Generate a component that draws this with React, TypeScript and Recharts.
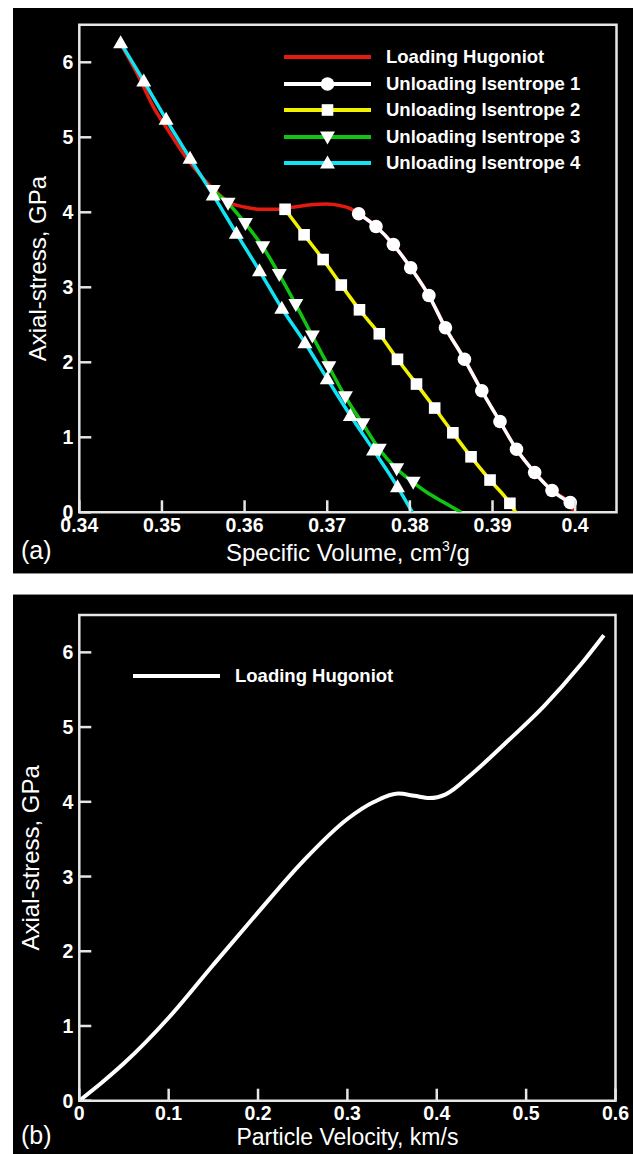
import React from 'react';
import { LineChart, Line, XAxis, YAxis, ReferenceArea, Legend } from 'recharts';

const FONT = '"Liberation Sans", Arial, Helvetica, sans-serif';

// ---------- Panel (a): stress vs specific volume ----------
const volumeTicks = [0.34, 0.35, 0.36, 0.37, 0.38, 0.39, 0.4];
const stressTicks = [0, 1, 2, 3, 4, 5, 6];

const hugoniotVolume = [0.345, 0.347, 0.349, 0.351, 0.353, 0.355, 0.3565, 0.358, 0.36, 0.362, 0.364, 0.366, 0.368, 0.37, 0.3715, 0.3728, 0.3738, 0.3759, 0.378, 0.3801, 0.3823, 0.3843, 0.3866, 0.3887, 0.3909, 0.3929, 0.3951, 0.3972, 0.3994, 0.3998];
const hugoniotStress = [6.25, 5.85, 5.4, 5.05, 4.72, 4.45, 4.28, 4.14, 4.07, 4.04, 4.04, 4.07, 4.1, 4.11, 4.09, 4.05, 3.98, 3.81, 3.57, 3.26, 2.89, 2.46, 2.04, 1.62, 1.21, 0.84, 0.53, 0.29, 0.1, 0.02];

const iso1Volume = [0.3738, 0.3759, 0.378, 0.3801, 0.3823, 0.3843, 0.3866, 0.3887, 0.3909, 0.3929, 0.3951, 0.3972, 0.3994];
const iso1Stress = [3.98, 3.81, 3.57, 3.26, 2.89, 2.46, 2.04, 1.62, 1.21, 0.84, 0.53, 0.29, 0.13];
const iso1TailVolume: number[] = [];
const iso1TailStress: number[] = [];

const iso2Volume = [0.3649, 0.3672, 0.3695, 0.3717, 0.3739, 0.3763, 0.3785, 0.3808, 0.383, 0.3852, 0.3874, 0.3897, 0.3921];
const iso2Stress = [4.04, 3.7, 3.37, 3.03, 2.7, 2.38, 2.04, 1.71, 1.39, 1.06, 0.74, 0.43, 0.12];
const iso2TailVolume = [0.3928];
const iso2TailStress = [0];

const iso3Volume = [0.3562, 0.358, 0.3601, 0.3622, 0.3642, 0.3662, 0.3682, 0.3702, 0.3722, 0.3743, 0.3763, 0.3784, 0.3804];
const iso3Stress = [4.29, 4.12, 3.85, 3.54, 3.17, 2.77, 2.35, 1.94, 1.54, 1.18, 0.84, 0.58, 0.4];
const iso3TailVolume = [0.382, 0.3843, 0.3862];
const iso3TailStress = [0.27, 0.12, 0];

const iso4Volume = [0.345, 0.3478, 0.3505, 0.3534, 0.3562, 0.359, 0.3618, 0.3645, 0.3673, 0.37, 0.3728, 0.3756, 0.3785];
const iso4Stress = [6.26, 5.75, 5.24, 4.72, 4.23, 3.72, 3.22, 2.72, 2.26, 1.78, 1.29, 0.83, 0.34];
const iso4TailVolume = [0.3803];
const iso4TailStress = [0];

// ---------- Panel (b): stress vs particle velocity ----------
const velocityTicks = [0, 0.1, 0.2, 0.3, 0.4, 0.5, 0.6];
const hugoniotVelocity = [0, 0.025, 0.05, 0.1, 0.15, 0.2, 0.25, 0.3, 0.33, 0.357, 0.375, 0.392, 0.41, 0.44, 0.48, 0.52, 0.56, 0.587];
const hugoniotStressB = [0, 0.24, 0.5, 1.11, 1.82, 2.52, 3.2, 3.77, 4.0, 4.11, 4.08, 4.05, 4.1, 4.38, 4.82, 5.28, 5.82, 6.23];

const zip = (xs: number[], ys: number[]) => xs.map((x, i) => ({ x, y: ys[i] }));

type Shape = 'none' | 'circle' | 'square' | 'down' | 'up';

const seriesA = [
  { name: 'Loading Hugoniot', color: '#e41a10', shape: 'none' as Shape, marks: zip(hugoniotVolume, hugoniotStress), tail: [] as { x: number; y: number }[] },
  { name: 'Unloading Isentrope 1', color: '#ffffff', shape: 'circle' as Shape, marks: zip(iso1Volume, iso1Stress), tail: zip(iso1TailVolume, iso1TailStress) },
  { name: 'Unloading Isentrope 2', color: '#f2f200', shape: 'square' as Shape, marks: zip(iso2Volume, iso2Stress), tail: zip(iso2TailVolume, iso2TailStress) },
  { name: 'Unloading Isentrope 3', color: '#12c412', shape: 'down' as Shape, marks: zip(iso3Volume, iso3Stress), tail: zip(iso3TailVolume, iso3TailStress) },
  { name: 'Unloading Isentrope 4', color: '#10e4f4', shape: 'up' as Shape, marks: zip(iso4Volume, iso4Stress), tail: zip(iso4TailVolume, iso4TailStress) },
];

const FRAME = '#e6e6e6';

function marker(shape: Shape, cx: number, cy: number, key?: string | number) {
  const k = key ?? `${shape}-${cx}-${cy}`;
  if (shape === 'circle') return <circle key={k} cx={cx} cy={cy} r={6.8} fill="#fff" />;
  if (shape === 'square') return <rect key={k} x={cx - 5.8} y={cy - 5.8} width={11.6} height={11.6} fill="#fff" />;
  if (shape === 'up') return <path key={k} d={`M${cx},${cy - 7.5}L${cx + 7.5},${cy + 5.5}L${cx - 7.5},${cy + 5.5}Z`} fill="#fff" />;
  if (shape === 'down') return <path key={k} d={`M${cx},${cy + 7.5}L${cx + 7.5},${cy - 5.5}L${cx - 7.5},${cy - 5.5}Z`} fill="#fff" />;
  return <g key={k} />;
}

const fmt = (v: number) => String(Number(v.toFixed(3)));

const XTick = (props: any) => {
  const { x, y, payload } = props;
  return (
    <g>
      <line x1={x} y1={y} x2={x} y2={y - 12} stroke={FRAME} strokeWidth={2.5} />
      <text x={x} y={y + 19.5} textAnchor="middle" fill="#fff" fontFamily={FONT} fontWeight="bold" fontSize={19.5}>
        {fmt(payload.value)}
      </text>
    </g>
  );
};

const YTick = (props: any) => {
  const { x, y, payload } = props;
  return (
    <g>
      <line x1={x} y1={y} x2={x + 12} y2={y} stroke={FRAME} strokeWidth={2.5} />
      <text x={x - 6} y={y + 7} textAnchor="end" fill="#fff" fontFamily={FONT} fontWeight="bold" fontSize={19.5}>
        {fmt(payload.value)}
      </text>
    </g>
  );
};

const legendRows = (items: { name: string; color: string; shape: Shape }[], payload: any[] | undefined) => (
  <div style={{ fontFamily: FONT }}>
    {items.map((it) => {
      const p = (payload || []).find((e: any) => e.value === it.name);
      const color = p && p.color ? p.color : it.color;
      return (
        <div key={it.name} style={{ display: 'flex', alignItems: 'center', height: 26.5 }}>
          <svg width={87} height={26} style={{ display: 'block' }}>
            <line x1={0} y1={13} x2={87} y2={13} stroke={color} strokeWidth={4} />
            {marker(it.shape, 43.5, 13)}
          </svg>
          <span style={{ marginLeft: 15, color: '#fff', fontWeight: 'bold', fontSize: 18.5, whiteSpace: 'nowrap', lineHeight: '26px' }}>
            {it.name}
          </span>
        </div>
      );
    })}
  </div>
);

const YTitle = (dx: number) => (props: any) => {
  const vb = props.viewBox || {};
  const cx = vb.x + (vb.width || 0) + dx;
  const cy = vb.y + vb.height / 2;
  return (
    <text x={cx} y={cy} transform={`rotate(-90 ${cx} ${cy})`} textAnchor="middle" dominantBaseline="central" fill="#fff" fontFamily={FONT} fontSize={24}>
      Axial-stress, GPa
    </text>
  );
};

const XTitleA = (props: any) => {
  const vb = props.viewBox || {};
  const cx = vb.x + vb.width / 2;
  const by = vb.y + 48.3;
  return (
    <g>
      <text x={cx} y={by} textAnchor="middle" fill="#fff" fontFamily={FONT} fontSize={24}>
        Specific Volume, cm
        <tspan fontSize={14} dy={-10}>3</tspan>
        <tspan dy={10}>/g</tspan>
      </text>
      <text x={21} y={by - 2} fill="#fff" fontFamily={FONT} fontSize={25}>(a)</text>
    </g>
  );
};

const XTitleB = (props: any) => {
  const vb = props.viewBox || {};
  const cx = vb.x + vb.width / 2;
  const by = vb.y + 44.3;
  return (
    <g>
      <text x={cx} y={by} textAnchor="middle" fill="#fff" fontFamily={FONT} fontSize={23}>
        Particle Velocity, km/s
      </text>
      <text x={21} y={by - 1} fill="#fff" fontFamily={FONT} fontSize={25}>(b)</text>
    </g>
  );
};

export default function App() {
  const dataB = zip(hugoniotVelocity, hugoniotStressB);
  return (
    <div style={{ position: 'relative', width: 633, height: 1154, overflow: 'hidden', background: '#fff' }}>
      <style>{'html,body{margin:0;padding:0;overflow:hidden;background:#fff}'}</style>
      <div style={{ position: 'absolute', left: 13, top: 8, width: 620, height: 565, background: '#000', borderBottom: '1px solid #8c8c8c' }} />
      <div style={{ position: 'absolute', left: 13, top: 594, width: 620, height: 560, background: '#000', borderTop: '1px solid #8c8c8c' }} />

      <div style={{ position: 'absolute', left: 0, top: 0 }}>
        <LineChart width={633} height={573} margin={{ top: 24.8, right: 16.5, bottom: 59.7, left: 78.3 }}>
          <XAxis
            type="number"
            dataKey="x"
            domain={[0.34, 0.405]}
            ticks={volumeTicks}
            interval={0}
            allowDataOverflow
            height={1}
            tickSize={0}
            tickMargin={0}
            axisLine={false}
            tickLine={false}
            tick={<XTick />}
            label={XTitleA}
          />
          <YAxis
            type="number"
            dataKey="y"
            domain={[0, 6.5]}
            ticks={stressTicks}
            interval={0}
            allowDataOverflow
            width={1}
            tickSize={0}
            tickMargin={0}
            axisLine={false}
            tickLine={false}
            tick={<YTick />}
            label={YTitle(-42)}
          />
          <ReferenceArea x1={0.34} x2={0.405} y1={0} y2={6.5} fill="none" stroke={FRAME} strokeWidth={2.5} />
          {seriesA.map((s) => {
            const n = s.marks.length;
            return (
              <Line
                key={s.name}
                name={s.name}
                data={[...s.marks, ...s.tail]}
                dataKey="y"
                type="monotone"
                stroke={s.color}
                strokeWidth={3.5}
                isAnimationActive={false}
                dot={(p: any) => (p.index < n && s.shape !== 'none' ? marker(s.shape, p.cx, p.cy, `${s.name}-${p.index}`) : <g key={`${s.name}-e-${p.index}`} />)}
                activeDot={false}
              />
            );
          })}
          <Legend
            layout="vertical"
            align="center"
            verticalAlign="middle"
            wrapperStyle={{ left: 284, top: 44, width: 330 }}
            content={(props: any) => legendRows(seriesA, props.payload)}
          />
        </LineChart>
      </div>

      <div style={{ position: 'absolute', left: 0, top: 595 }}>
        <LineChart width={633} height={559} margin={{ top: 20, right: 17.5, bottom: 52.3, left: 78.3 }}>
          <XAxis
            type="number"
            dataKey="x"
            domain={[0, 0.6]}
            ticks={velocityTicks}
            interval={0}
            allowDataOverflow
            height={1}
            tickSize={0}
            tickMargin={0}
            axisLine={false}
            tickLine={false}
            tick={<XTick />}
            label={XTitleB}
          />
          <YAxis
            type="number"
            dataKey="y"
            domain={[0, 6.5]}
            ticks={stressTicks}
            interval={0}
            allowDataOverflow
            width={1}
            tickSize={0}
            tickMargin={0}
            axisLine={false}
            tickLine={false}
            tick={<YTick />}
            label={YTitle(-49)}
          />
          <ReferenceArea x1={0} x2={0.6} y1={0} y2={6.5} fill="none" stroke={FRAME} strokeWidth={2.5} />
          <Line
            name="Loading Hugoniot"
            data={dataB}
            dataKey="y"
            type="monotone"
            stroke="#ffffff"
            strokeWidth={4}
            dot={false}
            activeDot={false}
            isAnimationActive={false}
          />
          <Legend
            layout="vertical"
            align="center"
            verticalAlign="middle"
            wrapperStyle={{ left: 133, top: 68, width: 300 }}
            content={(props: any) => legendRows([{ name: 'Loading Hugoniot', color: '#ffffff', shape: 'none' }], props.payload)}
          />
        </LineChart>
      </div>
    </div>
  );
}
